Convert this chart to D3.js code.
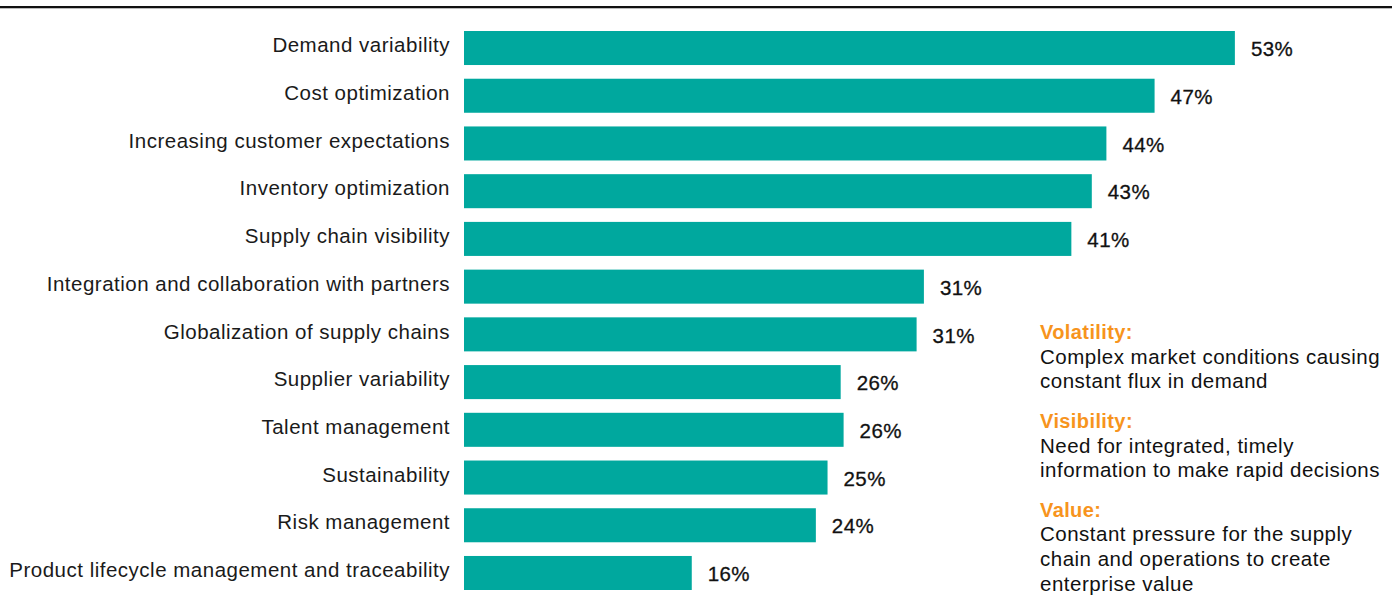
<!DOCTYPE html>
<html>
<head>
<meta charset="utf-8">
<script src="https://cdn.jsdelivr.net/npm/d3@7"></script>
<style>
  body { margin: 0; background: #fff; }
  svg text { font-family: "Liberation Sans", Arial, Helvetica, sans-serif; }
</style>
</head>
<body>
<div id="chart"></div>
<script>
// categories, top to bottom
var categories = [
    "Demand variability",
    "Cost optimization",
    "Increasing customer expectations",
    "Inventory optimization",
    "Supply chain visibility",
    "Integration and collaboration with partners",
    "Globalization of supply chains",
    "Supplier variability",
    "Talent management",
    "Sustainability",
    "Risk management",
    "Product lifecycle management and traceability"
];
// bar lengths (percent)
var values = [52.8, 47.3, 44.0, 43.0, 41.6, 31.5, 31.0, 25.8, 26.0, 24.9, 24.1, 15.6];
// printed labels
var shown = [53, 47, 44, 43, 41, 31, 31, 26, 26, 25, 24, 16];

var notes = [
    {title: "Volatility:", lines: ["Complex market conditions causing", "constant flux in demand"]},
    {title: "Visibility:", lines: ["Need for integrated, timely", "information to make rapid decisions"]},
    {title: "Value:", lines: ["Constant pressure for the supply", "chain and operations to create", "enterprise value"]}
];

var W = 1400, H = 596;
var teal = "#00a89e", orange = "#f7941d";

var svg = d3.select("#chart").append("svg")
    .attr("width", W)
    .attr("height", H);

// top rule
svg.append("line")
    .attr("x1", 0).attr("x2", 1392)
    .attr("y1", 7).attr("y2", 7)
    .attr("stroke", "#111").attr("stroke-width", 2);
svg.append("line")
    .attr("x1", 0).attr("x2", 1392)
    .attr("y1", 8.5).attr("y2", 8.5)
    .attr("stroke", "#bbb").attr("stroke-width", 1);

var x = d3.scaleLinear().domain([0, 60]).range([464, 464 + 876]);
var y = d3.scaleBand()
    .domain(categories)
    .range([31, 590])
    .paddingInner(0.287)
    .paddingOuter(0);

var rows = categories.map(function(c, i) { return {cat: c, v: values[i], s: shown[i]}; });

svg.append("g")
    .selectAll("rect")
    .data(rows)
    .enter().append("rect")
    .attr("x", x(0))
    .attr("y", (d) => y(d.cat))
    .attr("width", (d) => x(d.v) - x(0))
    .attr("height", y.bandwidth())
    .attr("fill", teal);

// category labels
svg.append("g")
    .selectAll("text")
    .data(rows)
    .enter().append("text")
    .attr("x", 450)
    .attr("y", (d) => y(d.cat) + y.bandwidth() / 2 - 3)
    .attr("dy", "0.35em")
    .attr("text-anchor", "end")
    .attr("font-size", 20.5)
    .attr("letter-spacing", 0.5)
    .attr("fill", "#1a1a1a")
    .text((d) => d.cat);

// value labels
svg.append("g")
    .selectAll("text")
    .data(rows)
    .enter().append("text")
    .attr("x", (d) => x(d.v) + 16)
    .attr("y", (d) => y(d.cat) + y.bandwidth() / 2 + 1)
    .attr("dy", "0.35em")
    .attr("font-size", 20.5)
    .attr("letter-spacing", 0.4)
    .attr("fill", "#111")
    .attr("stroke", "#111")
    .attr("stroke-width", 0.3)
    .text((d) => d.s + "%");

// side notes
var ny = 332, lh = 24.6;
var g = svg.append("g");
notes.forEach(function(n) {
    g.append("text")
        .attr("x", 1040).attr("y", ny)
        .attr("dy", "0.35em")
        .attr("font-size", 20)
        .attr("letter-spacing", 0.4)
        .attr("font-weight", "bold")
        .attr("fill", orange)
        .text(n.title);
    n.lines.forEach(function(l, k) {
        g.append("text")
            .attr("x", 1040).attr("y", ny + lh * (k + 1))
            .attr("dy", "0.35em")
            .attr("font-size", 20.5)
            .attr("letter-spacing", 0.5)
            .attr("fill", "#111")
            .text(l);
    });
    ny += lh * (n.lines.length + 1) + 15;
});
</script>
</body>
</html>
